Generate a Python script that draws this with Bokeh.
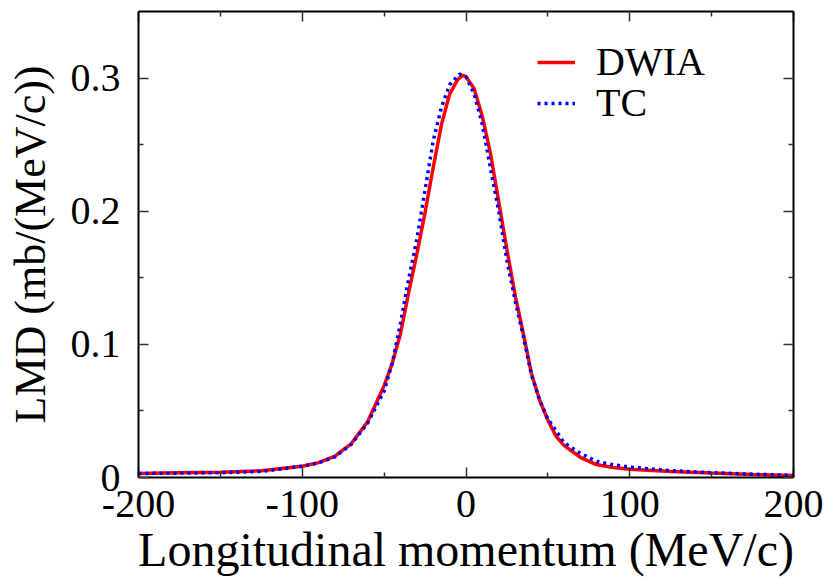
from bokeh.plotting import figure
from bokeh.models import (Range1d, LinearAxis, FixedTicker, Legend, LegendItem,
                          CustomLabelingPolicy)
from bokeh.embed import file_html
from bokeh.resources import INLINE

# ---- data ----
dwia_p = [-200, -175, -150, -125, -100, -90, -80, -70, -60, -50, -45, -40, -35, -30,
          -25, -20, -15, -10, -5, -2, 0, 5, 10, 15, 20, 25, 30, 35, 40, 45, 50, 55,
          60, 70, 80, 90, 100, 125, 150, 175, 200]
dwia_v = [0.0030, 0.0035, 0.0040, 0.0050, 0.0085, 0.0112, 0.0160, 0.0255, 0.0420, 0.0690,
          0.0860, 0.1080, 0.1390, 0.1680, 0.1990, 0.2330, 0.2650, 0.2880, 0.2990, 0.3020,
          0.3010, 0.2920, 0.2710, 0.2430, 0.2070, 0.1710, 0.1370, 0.1080, 0.0780, 0.0580,
          0.0430, 0.0310, 0.0240, 0.0150, 0.0095, 0.0075, 0.0062, 0.0045, 0.0033, 0.0022,
          0.0015]

tc_p = [-200, -175, -150, -125, -100, -90, -80, -70, -60, -50, -45, -40, -35, -30,
        -25, -20, -15, -10, -4, 0, 5, 10, 15, 20, 25, 30, 35, 40, 45, 50, 60, 70,
        80, 90, 100, 125, 150, 175, 200]
tc_v = [0.0030, 0.0033, 0.0036, 0.0045, 0.0085, 0.0110, 0.0155, 0.0250, 0.0410, 0.0650,
        0.0860, 0.1160, 0.1490, 0.1790, 0.2160, 0.2530, 0.2780, 0.2950, 0.3030, 0.3010,
        0.2880, 0.2650, 0.2320, 0.2000, 0.1630, 0.1330, 0.1060, 0.0770, 0.0580, 0.0440,
        0.0260, 0.0180, 0.0120, 0.0095, 0.0078, 0.0052, 0.0036, 0.0025, 0.0016]

x_ticks = [-200, -100, 0, 100, 200]
x_minor = [-150, -50, 50, 150]
x_tick_labels = ["-200", "-100", "0", "100", "200"]
y_ticks = [0, 0.1, 0.2, 0.3]
y_minor = [0.05, 0.15, 0.25]
y_tick_labels = ["0", "0.1", "0.2", "0.3"]

FONT = "Liberation Serif"

p = figure(width=830, height=578, output_backend="svg", toolbar_location=None,
           x_range=Range1d(-200, 200), y_range=Range1d(0, 0.35),
           x_axis_location=None, y_axis_location=None,
           min_border_left=138, min_border_right=37, min_border_top=9,
           min_border_bottom=101)
p.xgrid.visible = False
p.ygrid.visible = False
p.outline_line_color = None
p.background_fill_color = "white"
p.border_fill_color = "white"

no_labels = CustomLabelingPolicy(
    code="for (let i = 0; i < indices.size; i++) { indices.unset(i) }; return indices")


def style(ax, show):
    ax.axis_line_color = "black"
    ax.axis_line_width = 2
    ax.major_tick_in = 10
    ax.major_tick_out = 0
    ax.minor_tick_in = 5
    ax.minor_tick_out = 0
    ax.major_tick_line_color = "#333333"
    ax.minor_tick_line_color = "#333333"
    ax.major_tick_line_width = 1.5
    ax.minor_tick_line_width = 1.5
    if show:
        ax.major_label_text_font = FONT
        ax.major_label_text_font_size = "40px"
        ax.major_label_text_color = "black"
        ax.axis_label_text_font = FONT
        ax.axis_label_text_font_style = "normal"
        ax.axis_label_text_color = "black"
    else:
        ax.major_label_policy = no_labels
        ax.major_label_standoff = 0


xt = FixedTicker(ticks=x_ticks, minor_ticks=x_minor)
yt = FixedTicker(ticks=y_ticks, minor_ticks=y_minor)

xb = LinearAxis(ticker=xt, axis_label="Longitudinal momentum (MeV/c)",
                major_label_overrides={t: l for t, l in zip(x_ticks, x_tick_labels)})
style(xb, True)
xb.axis_label_text_font_size = "48px"
xb.major_label_standoff = 13
xb.axis_label_standoff = 3
p.add_layout(xb, "below")

yl = LinearAxis(ticker=yt, axis_label="LMD (mb/(MeV/c))",
                major_label_overrides={t: l for t, l in zip(y_ticks, y_tick_labels)})
style(yl, True)
yl.axis_label_text_font_size = "44px"
yl.major_label_standoff = 18
yl.axis_label_standoff = 13
p.add_layout(yl, "left")

xtop = LinearAxis(ticker=xt)
style(xtop, False)
p.add_layout(xtop, "above")
yr = LinearAxis(ticker=yt)
style(yr, False)
p.add_layout(yr, "right")

r1 = p.line(dwia_p, dwia_v, line_color="#ff0000", line_width=3.5)
r2 = p.line(tc_p, tc_v, line_color="#0000ff", line_width=3.5, line_dash="3 4")

legend_kw = dict(border_line_color=None, background_fill_alpha=0,
                 label_text_font=FONT, label_text_font_size="40px",
                 label_text_color="black",
                 glyph_width=38, glyph_height=20, label_standoff=21,
                 spacing=0, padding=0, margin=0)
leg1 = Legend(items=[LegendItem(label="DWIA", renderers=[r1])],
              location=(399, 392), **legend_kw)
leg2 = Legend(items=[LegendItem(label="TC", renderers=[r2])],
              location=(399, 351), **legend_kw)
p.add_layout(leg1)
p.add_layout(leg2)

open("out.html", "w").write(file_html(p, INLINE))
